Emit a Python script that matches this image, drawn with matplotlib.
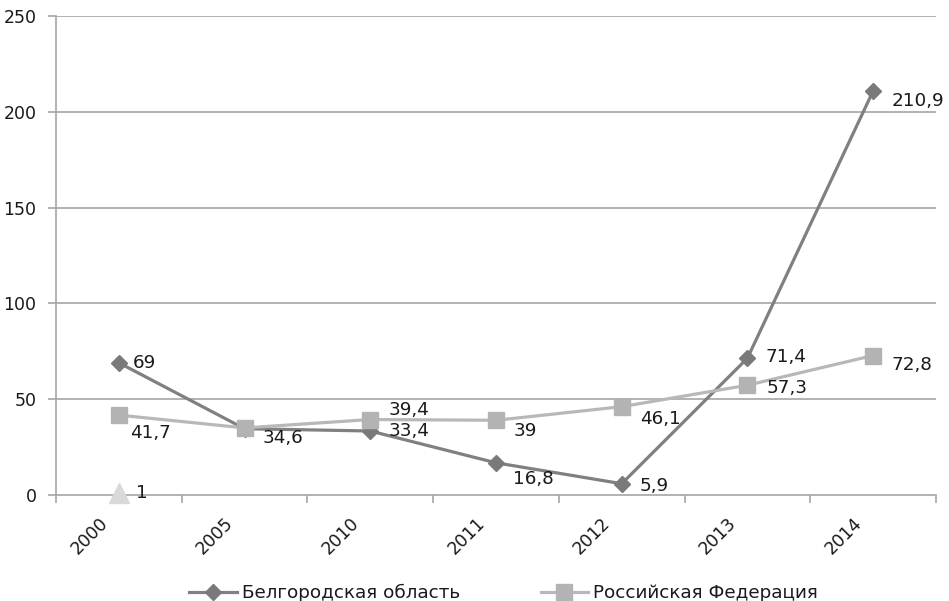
import matplotlib
matplotlib.use("Agg")
import matplotlib.pyplot as plt
import numpy as np

plt.rcParams['font.family'] = ['DejaVu Sans']

years = ["2000", "2005", "2010", "2011", "2012", "2013", "2014"]
belgorod = [69, 34.6, 33.4, 16.8, 5.9, 71.4, 210.9]
belgorod_labels = ["69", "34,6", "33,4", "16,8", "5,9", "71,4", "210,9"]
russia = [41.7, 35.0, 39.4, 39, 46.1, 57.3, 72.8]
russia_labels = ["41,7", "", "39,4", "39", "46,1", "57,3", "72,8"]
third = [1]
third_labels = ["1"]
yticks = [0, 50, 100, 150, 200, 250]

# label offsets (points)
bel_off = [(10, 0), (13, -7), (13, 0), (12, -12), (13, -2), (13, 1), (13, -7)]
rus_off = [(8, -13), (0, 0), (13, 7), (13, -8), (13, -9), (14, -2), (13, -7)]

fig = plt.figure(figsize=(9.49, 6.01), dpi=100)
ax = fig.add_axes([56/949, 106/601, 880/949, 479/601])

x = np.arange(len(years))
grid_c = '#a6a6a6'
txt_c = '#1a1a1a'
fs = 12.5
fs_lab = 13.2

for y in yticks[1:]:
    ax.axhline(y, color=grid_c, lw=1.2, zorder=0)

lb, = ax.plot(x, belgorod, color='#808080', lw=2.3, marker='D', ms=8.5,
              mfc='#7a7a7a', mec='#7a7a7a', zorder=3, label='Белгородская область')
lr, = ax.plot(x, russia, color='#b8b8b8', lw=2.3, marker='s', ms=12,
              mfc='#b3b3b3', mec='#b3b3b3', zorder=4, label='Российская Федерация')
ax.plot(x[:len(third)], third, linestyle='none', marker='^', ms=14,
        mfc='#d9d9d9', mec='#d9d9d9', zorder=5, clip_on=False)

for xi, v, t, o in zip(x, belgorod, belgorod_labels, bel_off):
    if t:
        ax.annotate(t, (xi, v), xytext=o, textcoords='offset points',
                    ha='left', va='center', fontsize=fs_lab, color=txt_c, zorder=6)
for xi, v, t, o in zip(x, russia, russia_labels, rus_off):
    if t:
        ax.annotate(t, (xi, v), xytext=o, textcoords='offset points',
                    ha='left', va='center', fontsize=fs_lab, color=txt_c, zorder=6)
for xi, v, t in zip(x, third, third_labels):
    ax.annotate(t, (xi, v), xytext=(12, 0), textcoords='offset points',
                ha='left', va='center', fontsize=fs_lab, color=txt_c, zorder=6)

ax.set_xlim(-0.5, len(years) - 0.5)
ax.set_ylim(0, 250)
ax.set_yticks(yticks)
ax.set_yticklabels([str(v) for v in yticks], fontsize=fs, color=txt_c)

# category labels (rotated), placed under each category centre
ax.set_xticks(x)
ax.set_xticklabels([])
for xi, yr in zip(x, years):
    ax.annotate(yr, (xi, 0), xytext=(-7.5, -21), textcoords='offset points',
                rotation=45, ha='right', va='baseline', rotation_mode='anchor',
                fontsize=fs, color=txt_c, annotation_clip=False)
ax.set_xticks(np.arange(-0.5, len(years)), minor=True)
ax.tick_params(axis='x', which='major', length=0)
ax.tick_params(axis='x', which='minor', length=6, width=1.2, color=grid_c, direction='out')
ax.tick_params(axis='y', length=6, width=1.2, color=grid_c, direction='out', pad=8)

for s in ['top', 'right']:
    ax.spines[s].set_visible(False)
for s in ['left', 'bottom']:
    ax.spines[s].set_color(grid_c)
    ax.spines[s].set_linewidth(1.2)

fig.legend(handles=[lb, lr], loc='center', bbox_to_anchor=(503.5/949, 1 - 593/601),
           ncol=2, frameon=False, fontsize=fs_lab, handlelength=2.6,
           columnspacing=4.4, handletextpad=0.25, labelcolor=txt_c)

fig.savefig('out.png', dpi=100)
